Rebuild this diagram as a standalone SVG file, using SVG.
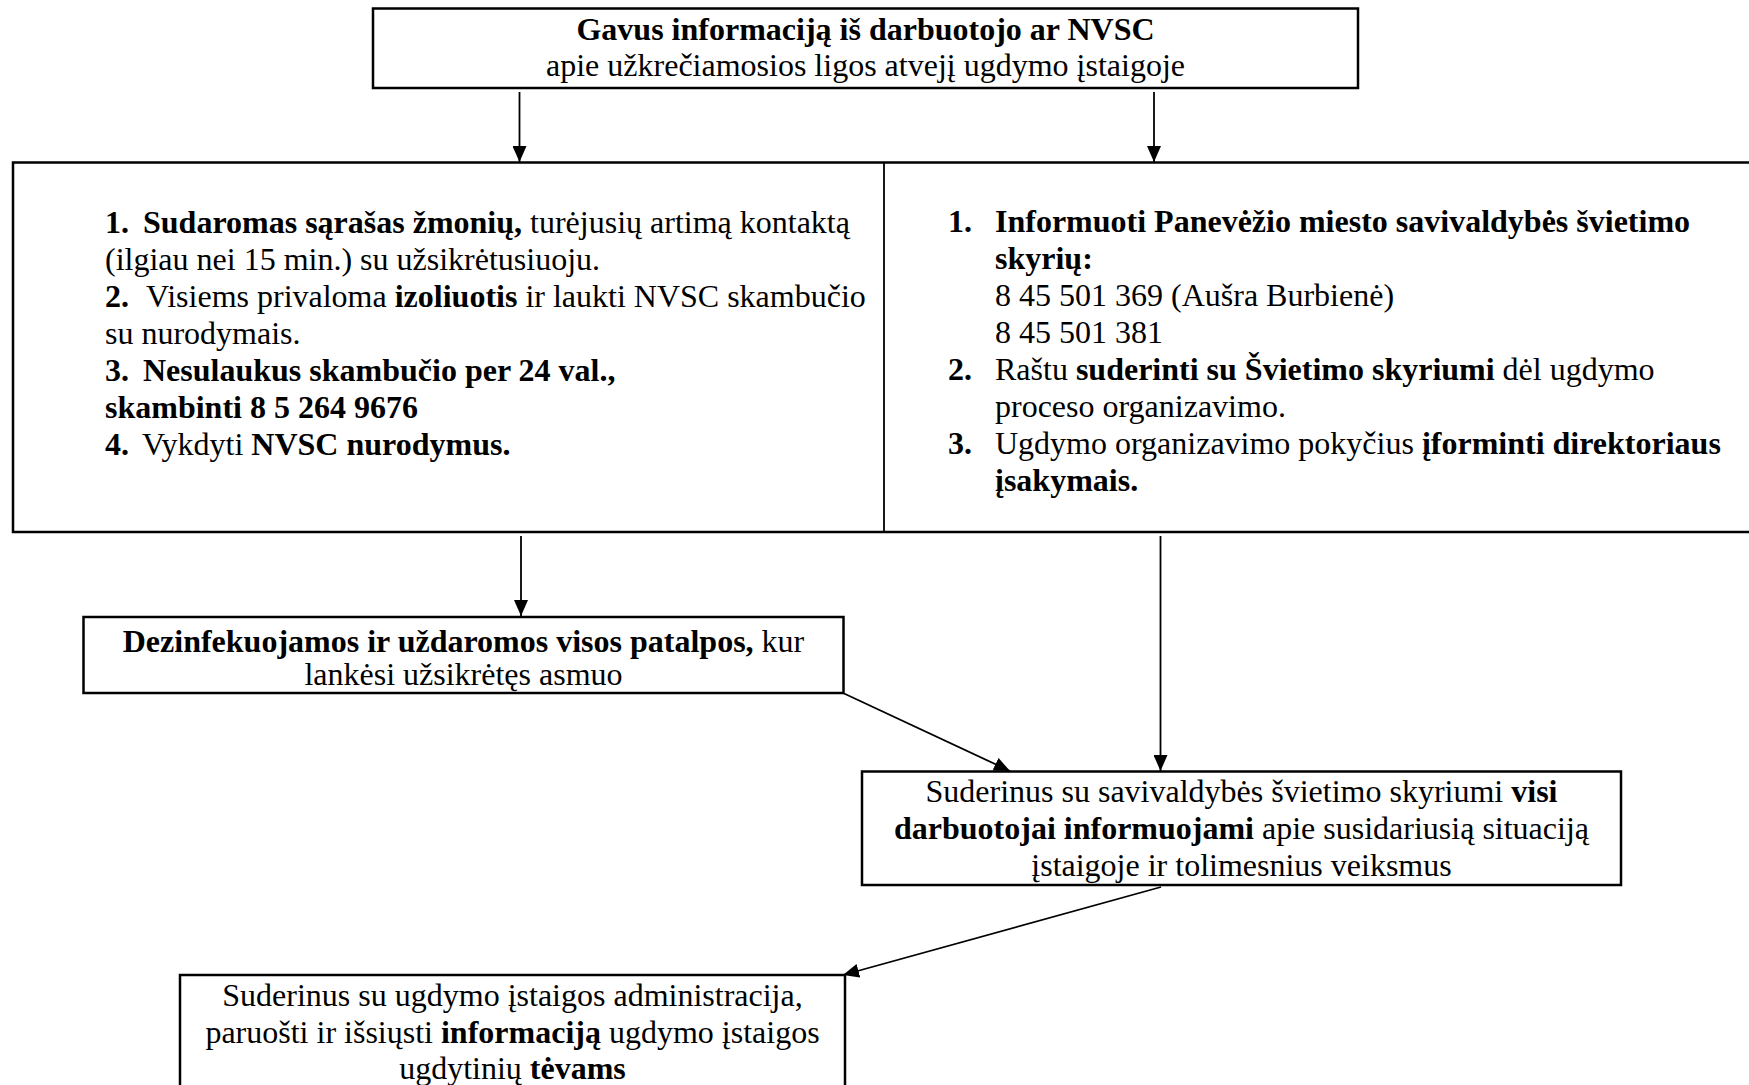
<svg xmlns="http://www.w3.org/2000/svg" width="1749" height="1085" viewBox="0 0 1749 1085">
<style>
  .box { fill: #ffffff; stroke: #000000; stroke-width: 2.5; }
  .div { stroke: #000000; stroke-width: 1.8; }
  .conn { stroke: #000000; stroke-width: 1.8; fill: none; marker-end: url(#arr); }
  text { font-family: "Liberation Serif", "Times New Roman", serif; font-size: 32px; fill: #000000; }
  .b { font-weight: bold; }
  .c { text-anchor: middle; }
</style>
<defs>
  <marker id="arr" viewBox="0 0 16 14" refX="16" refY="7" markerWidth="16" markerHeight="14" markerUnits="userSpaceOnUse" orient="auto">
    <path d="M0,0 L16,7 L0,14 Z" fill="#000000"/>
  </marker>
</defs>
<rect x="0" y="0" width="1749" height="1085" fill="#ffffff"/>

<g id="node-top">
  <rect class="box" x="373" y="8.5" width="985" height="79.5"/>
  <text class="c b" x="865.5" y="40">Gavus informaciją iš darbuotojo ar NVSC</text>
  <text class="c" x="865.5" y="75.5">apie užkrečiamosios ligos atvejį ugdymo įstaigoje</text>
</g>

<g id="node-actions">
  <rect class="box" x="13" y="162.5" width="1740" height="369.5"/>
  <line class="div" x1="884" y1="162.5" x2="884" y2="532"/>
  <g id="node-left-list">
    <text x="105" y="233"><tspan class="b">1.</tspan><tspan x="143" class="b">Sudaromas sąrašas žmonių,</tspan> turėjusių artimą kontaktą</text>
    <text x="105" y="270">(ilgiau nei 15 min.) su užsikrėtusiuoju.</text>
    <text x="105" y="307"><tspan class="b">2.</tspan><tspan x="146">Visiems privaloma </tspan><tspan class="b">izoliuotis</tspan> ir laukti NVSC skambučio</text>
    <text x="105" y="344">su nurodymais.</text>
    <text x="105" y="381" class="b"><tspan>3.</tspan><tspan x="143">Nesulaukus skambučio per 24 val.,</tspan></text>
    <text x="105" y="418" class="b">skambinti 8 5 264 9676</text>
    <text x="105" y="455"><tspan class="b">4.</tspan><tspan x="142">Vykdyti </tspan><tspan class="b">NVSC nurodymus.</tspan></text>
  </g>
  <g id="node-right-list">
    <text x="948" y="231.5" class="b"><tspan>1.</tspan><tspan x="995">Informuoti Panevėžio miesto savivaldybės švietimo</tspan></text>
    <text x="995" y="268.5" class="b">skyrių:</text>
    <text x="995" y="305.5">8 45 501 369 (Aušra Burbienė)</text>
    <text x="995" y="342.5">8 45 501 381</text>
    <text x="948" y="379.5"><tspan class="b">2.</tspan><tspan x="995">Raštu </tspan><tspan class="b">suderinti su Švietimo skyriumi</tspan> dėl ugdymo</text>
    <text x="995" y="416.5">proceso organizavimo.</text>
    <text x="948" y="453.5"><tspan class="b">3.</tspan><tspan x="995">Ugdymo organizavimo pokyčius </tspan><tspan class="b">įforminti direktoriaus</tspan></text>
    <text x="995" y="490.5" class="b">įsakymais.</text>
  </g>
</g>

<g id="node-disinfect">
  <rect class="box" x="83.5" y="617" width="760" height="76"/>
  <text class="c" x="463.5" y="652"><tspan class="b">Dezinfekuojamos ir uždaromos visos patalpos,</tspan> kur</text>
  <text class="c" x="463.5" y="684.5">lankėsi užsikrėtęs asmuo</text>
</g>

<g id="node-staff">
  <rect class="box" x="862" y="771.5" width="759" height="113.5"/>
  <text class="c" x="1241.5" y="802">Suderinus su savivaldybės švietimo skyriumi <tspan class="b">visi</tspan></text>
  <text class="c" x="1241.5" y="839"><tspan class="b">darbuotojai informuojami</tspan> apie susidariusią situaciją</text>
  <text class="c" x="1241.5" y="876">įstaigoje ir tolimesnius veiksmus</text>
</g>

<g id="node-parents">
  <rect class="box" x="180" y="975" width="665" height="130"/>
  <text class="c" x="512.5" y="1006">Suderinus su ugdymo įstaigos administracija,</text>
  <text class="c" x="512.5" y="1042.5">paruošti ir išsiųsti <tspan class="b">informaciją</tspan> ugdymo įstaigos</text>
  <text class="c" x="512.5" y="1078.5">ugdytinių <tspan class="b">tėvams</tspan></text>
</g>

<g id="connectors">
  <line class="conn" x1="519.5" y1="92" x2="519.5" y2="162"/>
  <line class="conn" x1="1154" y1="92" x2="1154" y2="162"/>
  <line class="conn" x1="521" y1="536" x2="521" y2="616"/>
  <line class="conn" x1="1160.5" y1="536" x2="1160.5" y2="771"/>
  <line class="conn" x1="843" y1="693" x2="1010" y2="771"/>
  <line class="conn" x1="1161" y1="887" x2="843" y2="975"/>
</g>
</svg>
